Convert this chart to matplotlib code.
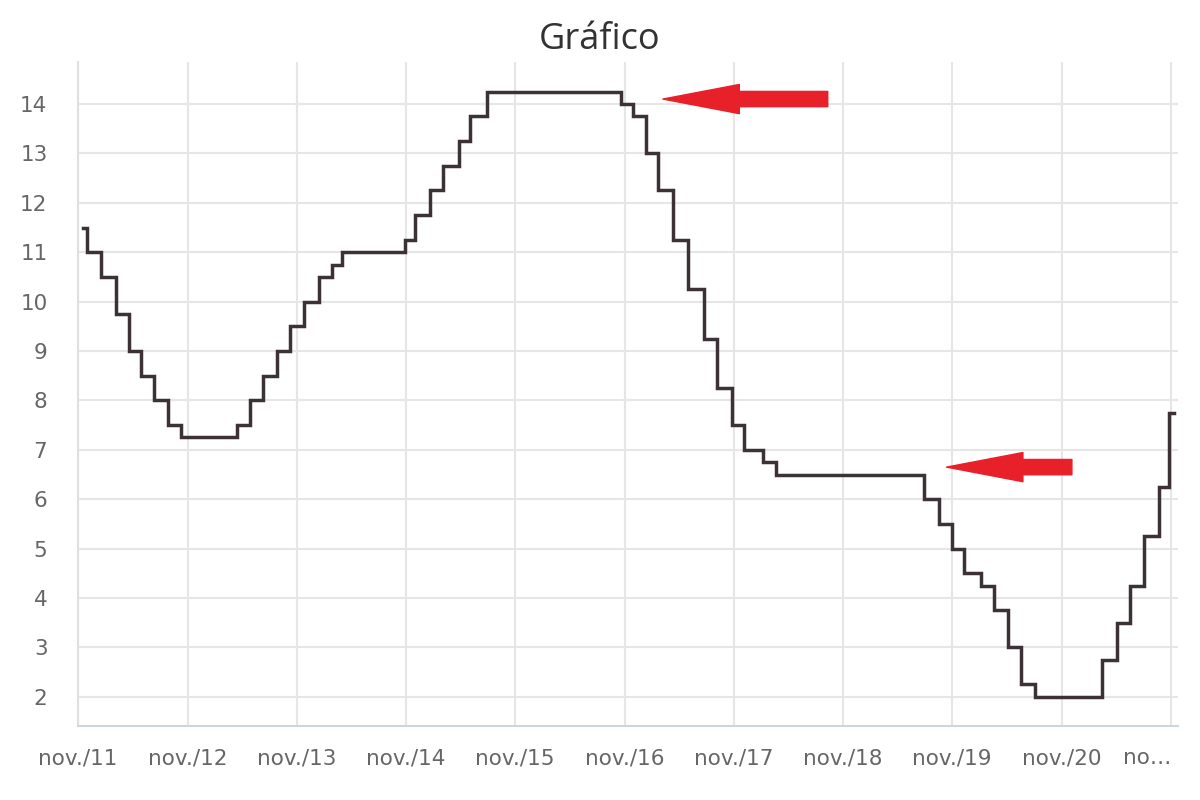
import matplotlib
matplotlib.use("Agg")
import matplotlib.pyplot as plt
import pandas as pd

# step dates (rate in force from that date on) and values
step_dates = ["2011-11-18", "2011-11-30", "2012-01-18", "2012-03-07", "2012-04-18",
              "2012-05-30", "2012-07-11", "2012-08-29", "2012-10-10", "2013-04-17",
              "2013-05-29", "2013-07-10", "2013-08-28", "2013-10-09", "2013-11-27",
              "2014-01-15", "2014-02-26", "2014-04-02", "2014-10-29", "2014-12-03",
              "2015-01-21", "2015-03-04", "2015-04-29", "2015-06-03", "2015-07-29",
              "2016-10-19", "2016-11-30", "2017-01-11", "2017-02-22", "2017-04-12",
              "2017-05-31", "2017-07-26", "2017-09-06", "2017-10-25", "2017-12-06",
              "2018-02-07", "2018-03-21", "2019-07-31", "2019-09-18", "2019-10-30",
              "2019-12-11", "2020-02-05", "2020-03-18", "2020-05-06", "2020-06-17",
              "2020-08-05", "2021-03-17", "2021-05-05", "2021-06-16", "2021-08-04",
              "2021-09-22", "2021-10-27", "2021-11-10"]
rates = [11.5, 11, 10.5, 9.75, 9, 8.5, 8, 7.5, 7.25, 7.5,
         8, 8.5, 9, 9.5, 10, 10.5, 10.75, 11, 11.25, 11.75,
         12.25, 12.75, 13.25, 13.75, 14.25, 14, 13.75, 13, 12.25, 11.25,
         10.25, 9.25, 8.25, 7.5, 7, 6.75, 6.5, 6, 5.5, 5,
         4.5, 4.25, 3.75, 3, 2.25, 2, 2.75, 3.5, 4.25, 5.25,
         6.25, 7.75, 7.75]

x_ticks = ["2011-11-01", "2012-11-01", "2013-11-01", "2014-11-01", "2015-11-01",
           "2016-11-01", "2017-11-01", "2018-11-01", "2019-11-01", "2020-11-01",
           "2021-11-01"]
x_labels = ["nov./11", "nov./12", "nov./13", "nov./14", "nov./15", "nov./16",
            "nov./17", "nov./18", "nov./19", "nov./20", "no\u2026"]
y_ticks = list(range(2, 15))

# red arrows drawn over the chart: (tail date, tip date, level)
arrows = [("2018-09-11", "2017-03-09", 14.1),
          ("2020-12-05", "2019-10-13", 6.65)]

dates = pd.to_datetime(step_dates)

fig = plt.figure(figsize=(12, 8), dpi=100)
ax = fig.add_axes([0.065, 0.0925, 0.917, 0.83])

ax.step(dates, rates, where="post", color="#3b3136", lw=2.5, solid_joinstyle="miter")

ax.set_xlim(pd.Timestamp("2011-11-01"), pd.Timestamp("2021-11-26"))
ax.set_ylim(1.41, 14.85)
ax.set_xticks(pd.to_datetime(x_ticks))
ax.set_xticklabels(x_labels)
ax.set_yticks(y_ticks)

ax.grid(True, color="#e6e6e6", lw=1.5)
ax.set_axisbelow(True)
ax.tick_params(length=0, labelsize=15.5, labelcolor="#666666")
ax.tick_params(axis="x", pad=16)
ax.tick_params(axis="y", pad=22)
# last label is cut short in the original, so it sits left of its gridline
ax.get_xticklabels()[-1].set_horizontalalignment("right")

for s in ["top", "right"]:
    ax.spines[s].set_visible(False)
ax.spines["left"].set_color("#e0e0e0")
ax.spines["left"].set_linewidth(1.5)
ax.spines["bottom"].set_color("#ccd6e0")
ax.spines["bottom"].set_linewidth(1.5)

for tail, tip, lvl in arrows:
    ax.annotate("", xy=(pd.Timestamp(tip), lvl), xytext=(pd.Timestamp(tail), lvl),
                arrowprops=dict(arrowstyle="simple,head_length=5.5,head_width=2.1,tail_width=1.1",
                                color="#e8202a", shrinkA=0, shrinkB=0, mutation_scale=10))

fig.suptitle("Gráfico", fontsize=26, color="#333333", family="Open Sans", y=0.972)

fig.savefig("out.png", dpi=100)
